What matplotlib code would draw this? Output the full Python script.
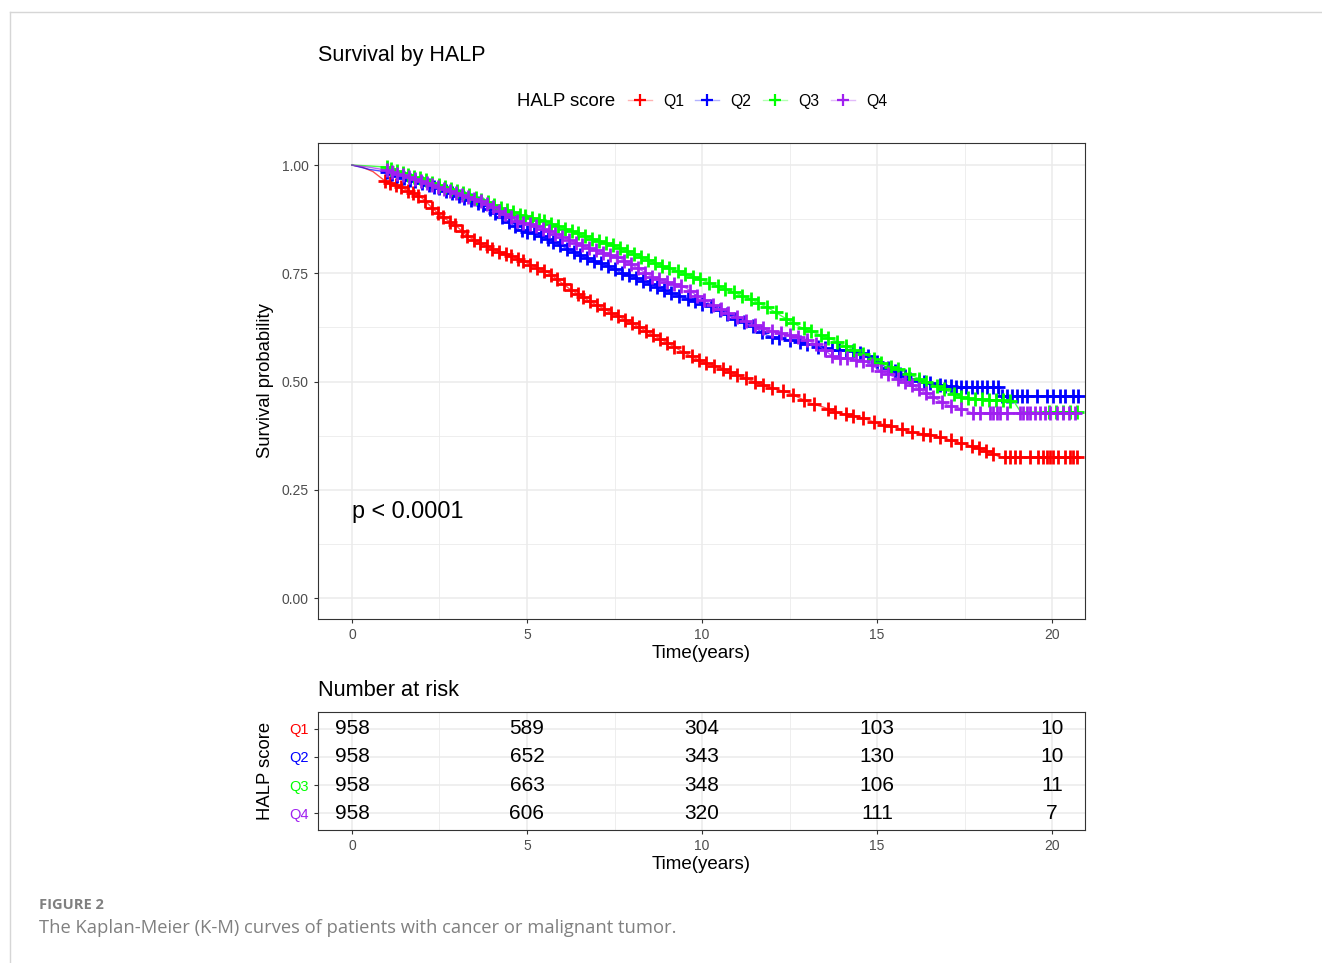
import numpy as np
import matplotlib
matplotlib.use("Agg")
import matplotlib.pyplot as plt
from matplotlib.lines import Line2D

plt.rcParams['font.family'] = ['Liberation Sans', 'DejaVu Sans']

# ---- data ----
groups = ["Q1", "Q2", "Q3", "Q4"]
colors = ["#FF0000", "#0000FF", "#00FF00", "#A020F0"]

q1_t = [0, 0.3, 0.6, 0.95, 1.5, 2.0, 2.5, 3.0, 3.3, 3.7, 4.2, 4.6, 5.0, 5.6, 6.2, 6.8, 7.5, 8.0, 8.5,
        9.0, 9.5, 10.0, 10.5, 11.0, 11.8, 12.5, 13.1, 13.5, 13.9, 14.5, 15.0, 15.5, 15.9, 16.6, 17.3,
        17.9, 18.2, 18.5, 20.75]
q1_s = [1.0, 0.995, 0.985, 0.963, 0.945, 0.924, 0.885, 0.858, 0.836, 0.818, 0.80, 0.789, 0.774, 0.752,
        0.715, 0.685, 0.655, 0.635, 0.612, 0.59, 0.566, 0.546, 0.533, 0.515, 0.49, 0.473, 0.45, 0.44,
        0.427, 0.418, 0.404, 0.395, 0.384, 0.376, 0.36, 0.346, 0.337, 0.326, 0.326]

q2_t = [0, 0.5, 1.0, 1.5, 2.0, 2.5, 3.0, 3.75, 4.3, 4.8, 5.2, 5.7, 6.2, 6.7, 7.2, 7.66, 8.1, 8.6, 9.1,
        9.55, 9.94, 10.4, 10.9, 11.4, 11.85, 12.3, 12.8, 13.3, 13.75, 14.2, 14.7, 15.1, 15.6, 16.0,
        16.6, 17.2, 18.5, 18.5, 20.75]
q2_s = [1.0, 0.99, 0.984, 0.97, 0.958, 0.947, 0.93, 0.908, 0.88, 0.85, 0.843, 0.825, 0.805, 0.785,
        0.77, 0.753, 0.74, 0.723, 0.705, 0.693, 0.681, 0.67, 0.647, 0.63, 0.607, 0.598, 0.591, 0.58,
        0.573, 0.572, 0.562, 0.54, 0.52, 0.505, 0.494, 0.488, 0.487, 0.467, 0.467]

q3_t = [0, 0.5, 1.0, 1.5, 2.0, 2.5, 3.0, 3.75, 4.3, 4.8, 5.2, 5.7, 6.2, 6.7, 7.2, 7.66, 8.2, 8.8, 9.3,
        9.86, 10.4, 10.9, 11.4, 11.85, 12.3, 12.8, 13.3, 13.75, 14.2, 14.7, 15.1, 15.7, 16.3, 16.9,
        17.5, 18.9, 19.1, 20.75]
q3_s = [1.0, 0.998, 0.995, 0.98, 0.968, 0.954, 0.94, 0.919, 0.9, 0.885, 0.878, 0.865, 0.85, 0.834,
        0.822, 0.808, 0.79, 0.769, 0.755, 0.739, 0.722, 0.706, 0.69, 0.672, 0.65, 0.626, 0.61, 0.596,
        0.578, 0.561, 0.543, 0.525, 0.503, 0.482, 0.462, 0.455, 0.43, 0.43]

q4_t = [0, 0.5, 1.0, 1.5, 2.0, 2.5, 3.0, 3.75, 4.3, 4.8, 5.2, 5.7, 6.2, 6.7, 7.2, 7.66, 8.1, 8.6, 9.1,
        9.55, 9.94, 10.4, 10.9, 11.4, 11.85, 12.3, 12.8, 13.3, 13.75, 14.2, 14.7, 15.1, 15.5, 16.0,
        16.6, 17.0, 17.3, 17.7, 20.75]
q4_s = [1.0, 0.995, 0.988, 0.975, 0.962, 0.949, 0.935, 0.915, 0.89, 0.868, 0.862, 0.845, 0.828, 0.81,
        0.797, 0.785, 0.765, 0.741, 0.728, 0.716, 0.693, 0.672, 0.654, 0.635, 0.619, 0.61, 0.603,
        0.585, 0.557, 0.553, 0.545, 0.525, 0.51, 0.492, 0.464, 0.446, 0.44, 0.428, 0.427]

# censoring times (+ marks)
q1_cens = [0.95, 1.1, 1.25, 1.4, 1.6, 1.75, 1.9, 2.1, 2.3, 2.45, 2.6, 2.8, 2.95, 3.15, 3.3, 3.5, 3.65,
           3.85, 4.0, 4.2, 4.4, 4.55, 4.75, 4.9, 5.1, 5.3, 5.5, 5.7, 5.85, 6.05, 6.25, 6.45, 6.6, 6.8,
           7.0, 7.2, 7.4, 7.6, 7.8, 8.0, 8.2, 8.4, 8.6, 8.8, 9.0, 9.2, 9.45, 9.7, 9.9, 10.1, 10.35,
           10.6, 10.8, 11.0, 11.25, 11.5, 11.75, 12.0, 12.3, 12.6, 12.9, 13.2, 13.6, 13.8, 14.1, 14.3,
           14.6, 14.9, 15.2, 15.4, 15.7, 16.0, 16.3, 16.5, 16.8, 17.1, 17.4, 17.7, 17.9, 18.1, 18.3,
           18.66, 18.8, 18.94, 19.09, 19.37, 19.6, 19.74, 19.86, 19.94, 20.03, 20.17, 20.37, 20.51,
           20.6, 20.71]
q2_cens = [1.0, 1.15, 1.3, 1.5, 1.65, 1.8, 2.0, 2.2, 2.35, 2.5, 2.7, 2.85, 3.05, 3.2, 3.4, 3.6, 3.75,
           3.95, 4.1, 4.3, 4.5, 4.65, 4.85, 5.0, 5.2, 5.4, 5.6, 5.75, 5.95, 6.15, 6.35, 6.5, 6.7, 6.9,
           7.1, 7.3, 7.5, 7.7, 7.9, 8.1, 8.3, 8.5, 8.7, 8.9, 9.1, 9.35, 9.6, 9.8, 10.0, 10.25, 10.5,
           10.7, 10.95, 11.2, 11.45, 11.7, 12.0, 12.2, 12.5, 12.8, 13.0, 13.3, 13.5, 13.7, 13.9, 14.1,
           14.3, 14.5, 14.75, 15.0, 15.3, 15.5, 15.65, 15.8, 15.95, 16.2, 16.35, 16.5, 16.8, 16.95,
           17.1, 17.25, 17.4, 17.55, 17.7, 17.85, 18.0, 18.15, 18.3, 18.45,
           18.56, 18.7, 18.85, 18.99, 19.13, 19.28, 19.56, 19.85, 20.04, 20.23, 20.37, 20.61, 20.75]
q3_cens = [1.0, 1.12, 1.28, 1.45, 1.6, 1.78, 1.95, 2.12, 2.3, 2.48, 2.65, 2.82, 3.0, 3.18, 3.35, 3.55,
           3.7, 3.9, 4.05, 4.25, 4.42, 4.6, 4.8, 4.95, 5.15, 5.35, 5.5, 5.7, 5.9, 6.1, 6.3, 6.45, 6.65,
           6.85, 7.05, 7.25, 7.45, 7.65, 7.85, 8.05, 8.25, 8.45, 8.65, 8.85, 9.05, 9.3, 9.5, 9.75,
           9.95, 10.2, 10.45, 10.65, 10.9, 11.15, 11.4, 11.6, 11.85, 12.1, 12.4, 12.6, 12.9, 13.1,
           13.4, 13.6, 13.85, 14.1, 14.35, 14.6, 14.9, 15.1, 15.4, 15.6, 15.9, 16.2, 16.4, 16.7, 16.9,
           17.2, 17.4, 17.6, 17.8, 18.0, 18.2, 18.4, 18.6, 18.8, 19.9, 20.1, 20.3, 20.5, 20.7]
q4_cens = [1.0, 1.14, 1.3, 1.46, 1.62, 1.8, 1.97, 2.14, 2.3, 2.47, 2.64, 2.8, 2.98, 3.15, 3.32, 3.5,
           3.68, 3.85, 4.02, 4.2, 4.38, 4.55, 4.72, 4.9, 5.08, 5.25, 5.45, 5.62, 5.8, 6.0, 6.2, 6.4,
           6.58, 6.78, 6.98, 7.18, 7.38, 7.58, 7.78, 7.98, 8.18, 8.38, 8.58, 8.78, 9.0, 9.2, 9.4,
           9.65, 9.85, 10.05, 10.3, 10.55, 10.75, 11.0, 11.25, 11.5, 11.75, 12.0, 12.25, 12.5, 12.75,
           13.0, 13.25, 13.5, 13.7, 13.95, 14.15, 14.4, 14.6, 14.85, 15.1, 15.3, 15.6, 15.8, 16.0,
           16.2, 16.4, 16.6, 16.85, 17.1, 17.4,
           17.75, 17.94, 18.23, 18.32, 18.42, 18.51, 18.71, 19.09, 19.18, 19.28, 19.37, 19.51, 19.66,
           19.8, 19.94, 20.13, 20.32, 20.47, 20.66]

risk_times = [0, 5, 10, 15, 20]
q1_risk = [958, 589, 304, 103, 10]
q2_risk = [958, 652, 343, 130, 10]
q3_risk = [958, 663, 348, 106, 11]
q4_risk = [958, 606, 320, 111, 7]

curves = [(q1_t, q1_s, q1_cens), (q2_t, q2_s, q2_cens), (q3_t, q3_s, q3_cens), (q4_t, q4_s, q4_cens)]
risks = [q1_risk, q2_risk, q3_risk, q4_risk]

W, H = 1322, 963
fig = plt.figure(figsize=(W / 100, H / 100), dpi=100)

def fx(px):
    return px / W

def fy(py):
    return 1 - py / H

grid_c = "#EBEBEB"
tick_c = "#4D4D4D"
edge_c = "#333333"

def style(a):
    a.set_xlim(-0.97, 20.94)
    a.set_xticks(risk_times)
    a.set_xticks([2.5, 7.5, 12.5, 17.5], minor=True)
    a.grid(True, which="major", color=grid_c, lw=1.1)
    a.grid(True, which="minor", axis="x", color=grid_c, lw=0.6)
    a.set_axisbelow(True)
    a.tick_params(which="major", length=3, width=0.8, color=edge_c, labelcolor=tick_c, labelsize=10)
    a.tick_params(which="minor", length=0)
    for sp in a.spines.values():
        sp.set_color(edge_c)
        sp.set_linewidth(0.8)

# ---- survival curves ----
ax = fig.add_axes([fx(318), fy(619), fx(1085) - fx(318), fy(143) - fy(619)])
style(ax)
ax.set_ylim(-0.0485, 1.051)
ax.set_yticks([0, 0.25, 0.5, 0.75, 1.0])
ax.set_yticklabels(["0.00", "0.25", "0.50", "0.75", "1.00"])
ax.set_yticks([0.125, 0.375, 0.625, 0.875], minor=True)
ax.grid(True, which="minor", axis="y", color=grid_c, lw=0.6)

for (t, s, c), col in zip(curves, colors):
    ax.plot(t, s, color=col, lw=1.0, alpha=0.7)
    cy = np.interp(c, t, s)
    ax.plot(c, cy, ls="none", marker="+", ms=9.5, mew=2.0, color=col)

ax.text(0, 0.2, "p < 0.0001", fontsize=16.8, ha="left", va="center")
ax.set_xlabel("Time(years)", fontsize=13.5, labelpad=2)
fig.text(fx(265), fy(381), "Survival probability", rotation=90, fontsize=13.3, ha="center", va="center")

fig.text(fx(318), fy(55), "Survival by HALP", fontsize=15.5, ha="left", va="center")

# legend row
fig.text(fx(517), fy(101), "HALP score", fontsize=13.3, ha="left", va="center")
leg_marks = [640, 707, 775, 843]
for g, col, mx in zip(groups, colors, leg_marks):
    fig.add_artist(Line2D([fx(mx - 12), fx(mx + 12)], [fy(100), fy(100)], color=col, lw=1.0, alpha=0.3,
                          transform=fig.transFigure))
    fig.add_artist(Line2D([fx(mx)], [fy(100)], marker="+", ms=8, mew=1.6, color=col, ls="none",
                          transform=fig.transFigure))
    fig.text(fx(mx + 23), fy(101), g, fontsize=11.3, ha="left", va="center")

# ---- risk table ----
tab = fig.add_axes([fx(318), fy(830), fx(1085) - fx(318), fy(712) - fy(830)])
style(tab)
tab.set_ylim(4.6, 0.4)
tab.set_yticks([1, 2, 3, 4])
tab.set_yticklabels(groups, fontsize=10.5)
for lab, col in zip(tab.get_yticklabels(), colors):
    lab.set_color(col)
for i, r in enumerate(risks):
    for tt, n in zip(risk_times, r):
        tab.text(tt, i + 1, str(n), fontsize=15, ha="center", va="center")
tab.set_xlabel("Time(years)", fontsize=13.5, labelpad=2)
fig.text(fx(265), fy(771), "HALP score", rotation=90, fontsize=13.3, ha="center", va="center")
fig.text(fx(318), fy(690), "Number at risk", fontsize=15.7, ha="left", va="center")

# page frame and caption
fig.add_artist(Line2D([fx(10), 1], [fy(12), fy(12)], color="#D6D6D6", lw=1, transform=fig.transFigure))
fig.add_artist(Line2D([fx(10), fx(10)], [fy(12), 0], color="#D6D6D6", lw=1, transform=fig.transFigure))
fig.text(fx(39), fy(905), "FIGURE 2", fontsize=10.5, color="#808080", fontweight="bold",
         family=["Open Sans", "DejaVu Sans"], ha="left", va="center")
fig.text(fx(39), fy(928), "The Kaplan-Meier (K-M) curves of patients with cancer or malignant tumor.",
         fontsize=13.2, color="#808080", family=["Open Sans", "DejaVu Sans"], ha="left", va="center")

fig.savefig("out.png", dpi=100)
